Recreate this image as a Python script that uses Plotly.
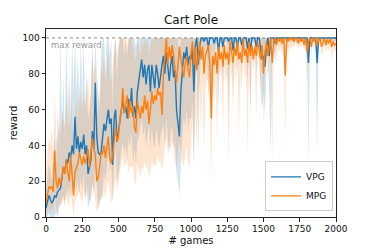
import plotly.graph_objects as go

games = list(range(0, 2001, 10))

vpg_mean = [
    5, 9, 12, 10, 8, 9, 12, 11, 14, 15, 16, 22, 28, 25, 32, 30, 36, 33, 40, 35,
    56, 38, 45, 36, 42, 38, 46, 35, 40, 24, 28, 32, 48, 38, 75, 45, 36, 35, 36, 45,
    52, 48, 53, 60, 52, 55, 29, 55, 60, 42, 48, 55, 60, 65, 58, 62, 55, 66, 60, 72,
    56, 62, 55, 70, 76, 82, 88, 78, 85, 74, 82, 85, 70, 85, 78, 72, 85, 80, 72, 80,
    85, 90, 80, 92, 84, 76, 85, 90, 78, 82, 60, 52, 45, 70, 80, 92, 88, 95, 85, 90,
    88, 94, 70, 96, 100, 85, 95, 100, 100, 98, 100, 100, 95, 100, 100, 100, 97, 100, 100, 92,
    100, 100, 95, 100, 100, 100, 98, 100, 100, 93, 100, 100, 95, 100, 100, 96, 100, 100, 100, 94,
    100, 92, 100, 100, 100, 95, 100, 100, 92, 88, 90, 84, 95, 100, 90, 100, 100, 100, 97, 100,
    100, 100, 100, 100, 100, 100, 100, 100, 100, 100, 100, 100, 100, 100, 100, 100, 100, 100, 100, 100,
    100, 86, 100, 100, 100, 100, 100, 86, 100, 100, 100, 100, 100, 100, 100, 100, 100, 100, 100, 100,
    100,
]

vpg_lo = [
    0, 0, 2, 0, 0, 0, 0, 3, 0, 5, 8, 10, 12, 8, 15, 12, 18, 10, 20, 12,
    25, 15, 20, 12, 22, 15, 25, 10, 18, 5, 8, 10, 20, 12, 30, 15, 5, 8, 10, 15,
    25, 20, 30, 35, 25, 30, 10, 32, 38, 20, 25, 30, 38, 42, 35, 40, 32, 45, 38, 48,
    30, 38, 30, 42, 45, 50, 55, 45, 50, 40, 48, 52, 38, 50, 42, 38, 50, 45, 38, 45,
    48, 52, 40, 55, 45, 35, 48, 50, 38, 42, 25, 20, 12, 30, 45, 55, 50, 60, 48, 55,
    55, 65, 30, 75, 90, 35, 75, 92, 95, 80, 96, 90, 65, 95, 50, 97, 82, 96, 97, 60,
    98, 95, 75, 98, 98, 97, 60, 98, 98, 72, 98, 97, 80, 98, 98, 80, 98, 98, 95, 75,
    98, 55, 98, 98, 97, 80, 98, 98, 70, 60, 70, 55, 85, 98, 65, 35, 98, 95, 85, 98,
    98, 98, 95, 98, 98, 98, 97, 98, 98, 98, 98, 97, 98, 98, 98, 98, 98, 98, 98, 98,
    98, 30, 98, 98, 97, 98, 98, 35, 98, 98, 98, 98, 98, 97, 98, 98, 98, 98, 98, 98,
    98,
]

vpg_hi = [
    15, 25, 30, 25, 20, 35, 45, 30, 60, 40, 100, 50, 80, 45, 100, 60, 80, 50, 100, 70,
    100, 70, 90, 60, 100, 65, 100, 60, 80, 55, 60, 70, 100, 65, 100, 80, 70, 60, 90, 100,
    100, 80, 100, 100, 90, 100, 60, 95, 100, 75, 95, 100, 100, 100, 90, 100, 90, 100, 100, 100,
    100, 100, 95, 100, 100, 100, 100, 100, 100, 100, 100, 100, 100, 100, 100, 100, 100, 100, 100, 100,
    100, 100, 100, 100, 100, 100, 100, 100, 100, 100, 100, 100, 90, 100, 100, 100, 100, 100, 100, 100,
    100, 100, 100, 100, 100, 100, 100, 100, 100, 100, 100, 100, 100, 100, 100, 100, 100, 100, 100, 100,
    100, 100, 100, 100, 100, 100, 100, 100, 100, 100, 100, 100, 100, 100, 100, 100, 100, 100, 100, 100,
    100, 100, 100, 100, 100, 100, 100, 100, 100, 100, 100, 100, 100, 100, 100, 100, 100, 100, 100, 100,
    100, 100, 100, 100, 100, 100, 100, 100, 100, 100, 100, 100, 100, 100, 100, 100, 100, 100, 100, 100,
    100, 100, 100, 100, 100, 100, 100, 100, 100, 100, 100, 100, 100, 100, 100, 100, 100, 100, 100, 100,
    100,
]

mpg_mean = [
    8, 12, 17, 16, 17, 14, 37, 20, 16, 22, 18, 22, 28, 24, 32, 25, 20, 35, 22, 12,
    25, 28, 30, 36, 32, 29, 34, 30, 33, 38, 28, 35, 44, 38, 35, 20, 22, 28, 36, 35,
    40, 33, 38, 45, 33, 30, 35, 45, 50, 42, 45, 55, 60, 72, 58, 63, 68, 55, 65, 58,
    62, 50, 47, 65, 60, 55, 62, 58, 68, 60, 65, 52, 60, 70, 63, 68, 65, 72, 68, 70,
    57, 80, 90, 100, 85, 95, 88, 96, 90, 80, 75, 85, 95, 88, 82, 78, 86, 90, 82, 78,
    92, 98, 85, 95, 82, 90, 98, 88, 95, 80, 90, 93, 96, 85, 55, 90, 85, 92, 80, 95,
    88, 92, 84, 96, 88, 92, 85, 98, 90, 86, 95, 90, 98, 88, 92, 86, 100, 90, 94, 86,
    98, 90, 96, 88, 95, 90, 98, 92, 88, 96, 80, 92, 98, 90, 96, 100, 86, 98, 100, 96,
    100, 98, 100, 97, 100, 79, 100, 98, 100, 99, 100, 98, 100, 99, 97, 100, 98, 100, 96, 100,
    92, 98, 100, 95, 100, 98, 100, 96, 99, 100, 95, 98, 100, 96, 99, 97, 100, 95, 98, 96,
    97,
]

mpg_lo = [
    0, 3, 5, 2, 5, 3, 15, 5, 0, 8, 5, 8, 10, 5, 12, 8, 5, 15, 5, 0,
    8, 10, 12, 15, 10, 8, 15, 10, 12, 18, 8, 12, 18, 15, 10, 3, 5, 8, 12, 10,
    15, 10, 18, 20, 12, 8, 10, 18, 22, 15, 20, 25, 30, 35, 28, 30, 32, 25, 28, 28,
    28, 20, 18, 30, 25, 22, 28, 25, 32, 26, 30, 22, 26, 32, 28, 30, 28, 35, 30, 32,
    25, 35, 40, 45, 35, 40, 38, 42, 40, 30, 28, 35, 42, 38, 30, 28, 35, 40, 30, 28,
    40, 55, 30, 60, 40, 70, 75, 45, 80, 35, 70, 78, 75, 60, 20, 75, 65, 80, 40, 85,
    78, 82, 50, 85, 75, 80, 30, 88, 78, 60, 85, 75, 88, 45, 82, 70, 90, 78, 80, 35,
    88, 60, 90, 82, 88, 55, 92, 85, 70, 90, 50, 85, 92, 75, 88, 95, 30, 92, 95, 88,
    95, 92, 95, 90, 96, 40, 96, 92, 95, 94, 96, 95, 97, 96, 94, 96, 95, 97, 93, 96,
    75, 94, 96, 90, 97, 93, 96, 85, 94, 97, 90, 94, 96, 92, 95, 93, 96, 88, 94, 92,
    93,
]

mpg_hi = [
    25, 35, 45, 40, 50, 35, 70, 45, 40, 55, 45, 60, 55, 50, 70, 55, 50, 75, 55, 40,
    60, 65, 55, 75, 65, 60, 70, 62, 70, 80, 60, 75, 90, 80, 85, 55, 60, 70, 85, 80,
    90, 75, 85, 95, 80, 75, 85, 95, 100, 90, 95, 100, 100, 100, 100, 100, 95, 100, 100, 100,
    95, 90, 88, 100, 95, 90, 100, 95, 100, 96, 100, 90, 96, 100, 98, 100, 100, 100, 100, 100,
    100, 100, 100, 100, 100, 100, 100, 100, 100, 100, 100, 100, 100, 100, 100, 100, 100, 100, 100, 100,
    100, 100, 100, 100, 100, 100, 100, 100, 100, 100, 100, 100, 100, 100, 95, 100, 100, 100, 100, 100,
    100, 100, 100, 100, 100, 100, 100, 100, 100, 100, 100, 100, 100, 100, 100, 100, 100, 100, 100, 100,
    100, 100, 100, 100, 100, 100, 100, 100, 100, 100, 100, 100, 100, 100, 100, 100, 100, 100, 100, 100,
    100, 100, 100, 100, 100, 100, 100, 100, 100, 100, 100, 100, 100, 100, 100, 100, 100, 100, 100, 100,
    100, 100, 100, 100, 100, 100, 100, 100, 100, 100, 100, 100, 100, 100, 100, 100, 100, 100, 100, 100,
    100,
]

x_ticks = [0, 250, 500, 750, 1000, 1250, 1500, 1750, 2000]
y_ticks = [0, 20, 40, 60, 80, 100]
max_reward = 100

BLUE = "#1f77b4"
ORANGE = "#ff7f0e"
BLUE_FILL = "rgba(31,119,180,0.2)"
ORANGE_FILL = "rgba(255,127,14,0.2)"

fig = go.Figure()

# bands
fig.add_trace(go.Scatter(x=games, y=vpg_hi, mode="lines", line=dict(width=0),
                         showlegend=False, hoverinfo="skip"))
fig.add_trace(go.Scatter(x=games, y=vpg_lo, mode="lines", line=dict(width=0),
                         fill="tonexty", fillcolor=BLUE_FILL, showlegend=False, hoverinfo="skip"))
fig.add_trace(go.Scatter(x=games, y=mpg_hi, mode="lines", line=dict(width=0),
                         showlegend=False, hoverinfo="skip"))
fig.add_trace(go.Scatter(x=games, y=mpg_lo, mode="lines", line=dict(width=0),
                         fill="tonexty", fillcolor=ORANGE_FILL, showlegend=False, hoverinfo="skip"))

# max reward line
fig.add_trace(go.Scatter(x=[games[0], games[-1]], y=[max_reward, max_reward], mode="lines",
                         line=dict(color="#888888", width=1, dash="dot"),
                         showlegend=False, hoverinfo="skip"))

# means
fig.add_trace(go.Scatter(x=games, y=vpg_mean, mode="lines", name="VPG",
                         line=dict(color=BLUE, width=1.4)))
fig.add_trace(go.Scatter(x=games, y=mpg_mean, mode="lines", name="MPG",
                         line=dict(color=ORANGE, width=1.4)))

fig.add_annotation(x=22, y=max_reward, xref="x", yref="y", text="max reward",
                   showarrow=False, xanchor="left", yanchor="top",
                   font=dict(size=8.5, color="#999999", family="DejaVu Sans"))

axis_common = dict(showline=True, linecolor="#222222", linewidth=1, mirror=True,
                   ticks="outside", ticklen=3.5, tickwidth=1, tickcolor="#222222",
                   showgrid=False, zeroline=False, automargin=False,
                   tickfont=dict(size=9, color="#111111", family="DejaVu Sans"))

# the page body has an 8px margin, so the figure is offset by 8px
fig.update_layout(
    width=366, height=241,
    margin=dict(l=38, r=38, t=21, b=32),
    paper_bgcolor="white", plot_bgcolor="white",
    title=dict(text="Cart Pole", x=0.5, xref="paper", xanchor="center",
               y=1 - 12 / 241, yref="container", yanchor="middle",
               font=dict(size=12, color="#111111", family="DejaVu Sans")),
    xaxis=dict(range=[0, 2000], tickvals=x_ticks,
               title=dict(text="# games", standoff=3,
                          font=dict(size=10, color="#111111", family="DejaVu Sans")),
               **axis_common),
    yaxis=dict(range=[0, 105], tickvals=y_ticks,
               title=dict(text="reward", standoff=4,
                          font=dict(size=10, color="#111111", family="DejaVu Sans")),
               **axis_common),
    legend=dict(x=0.99, y=0.03, xanchor="right", yanchor="bottom", traceorder="normal",
                bgcolor="rgba(255,255,255,0.85)", bordercolor="#cccccc", borderwidth=1,
                font=dict(size=9, color="#111111", family="DejaVu Sans"),
                tracegroupgap=0, itemwidth=30),
    showlegend=True,
)

fig.write_html("out.html")
